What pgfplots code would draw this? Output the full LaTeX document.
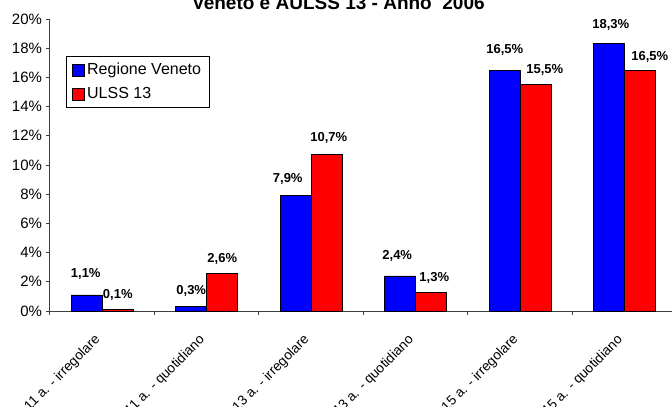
\documentclass[border=0pt]{standalone}
\usepackage{fontspec}
\setmainfont{Liberation Sans}
\usepackage{pgfplots}
\pgfplotsset{compat=1.18}
\usepackage{pgfplotstable}

\definecolor{vblue}{RGB}{0,0,255}
\definecolor{ured}{RGB}{255,0,0}

\pgfplotstableread{
x y dx dy
0 1.1 -1 21
1 0.3 0 15.5
2 7.9 -8 17
3 2.4 -3 20
4 16.5 0 20.5
5 18.3 1.5 18.7
}\veneto
\pgfplotstableread{
x y dx dy
0 0.1 0 15
1 2.6 0 14
2 10.7 2 17
3 1.3 3 14
4 15.5 9 14.5
5 16.5 9.5 13
}\ulss

\begin{document}
\begin{tikzpicture}
\begin{axis}[
  at={(0pt,0pt)}, anchor=south west,
  scale only axis,
  width=470.25pt, height=219pt,
  xmin=-0.5, xmax=5.5, ymin=0, ymax=20,
  clip=false,
  axis lines*=left,
  axis line style={black!75, line width=0.75pt},
  tick align=outside,
  major tick length=0pt,
  minor tick length=3pt,
  tick style={black!75, line width=0.75pt},
  /pgf/number format/assume math mode=true,
  ytick={0,2,...,20},
  minor ytick={0,2,...,20},
  yticklabel={\pgfmathprintnumber{\tick}\%},
  yticklabel style={font=\fontsize{11.25}{13}\selectfont, xshift=-2.5pt},
  xtick={0,1,2,3,4,5},
  xticklabels={11 a. - irregolare, 11 a. - quotidiano, 13 a. - irregolare, 13 a. - quotidiano, 15 a. - irregolare, 15 a. - quotidiano},
  minor xtick={-0.5,0.5,...,5.5},
  xticklabel style={xshift=-6.5pt, yshift=-16.5pt, rotate=45, anchor=north east, inner sep=0pt, font=\fontsize{10.25}{12}\selectfont},
  ybar, bar width=0.2967,
  title={Veneto e AULSS 13 - Anno~ 2006},
  title style={at={(0.46,1.0188)}, anchor=base, inner sep=0pt, yshift=-3pt, font=\bfseries\fontsize{14.25}{16}\selectfont},
  legend style={at={(axis description cs:0.0255,0.873)}, anchor=north west, draw=black, line width=0.6pt, fill=white, font=\fontsize{12}{14}\selectfont, inner xsep=4pt, inner ysep=3pt, row sep=4pt},
  legend cell align=left,
  legend image code/.code={\draw[#1,line width=0.6pt] (0pt,-4.5pt) rectangle (9pt,4.5pt);},
  nodes near coords={\pgfmathprintnumber[fixed,fixed zerofill,precision=1,use comma]{\pgfplotspointmeta}\%},
  visualization depends on={\thisrow{dx}\as\labdx},
  visualization depends on={\thisrow{dy}\as\labdy},
  every node near coord/.append style={anchor=center, inner sep=0pt, font=\bfseries\fontsize{9.75}{11}\selectfont, xshift=\labdx*0.75pt, yshift=\labdy*0.75pt},
]
\addplot[fill=vblue, draw=black, line width=0.6pt, bar shift=-0.14835] table[x=x,y=y]{\veneto};
\addplot[fill=ured, draw=black, line width=0.6pt, bar shift=0.14835] table[x=x,y=y]{\ulss};
\legend{Regione Veneto, ULSS 13}
\end{axis}
\pgfresetboundingbox
\useasboundingbox (-37.5pt,-72pt) rectangle (466.5pt,233.25pt);
\end{tikzpicture}
\end{document}
